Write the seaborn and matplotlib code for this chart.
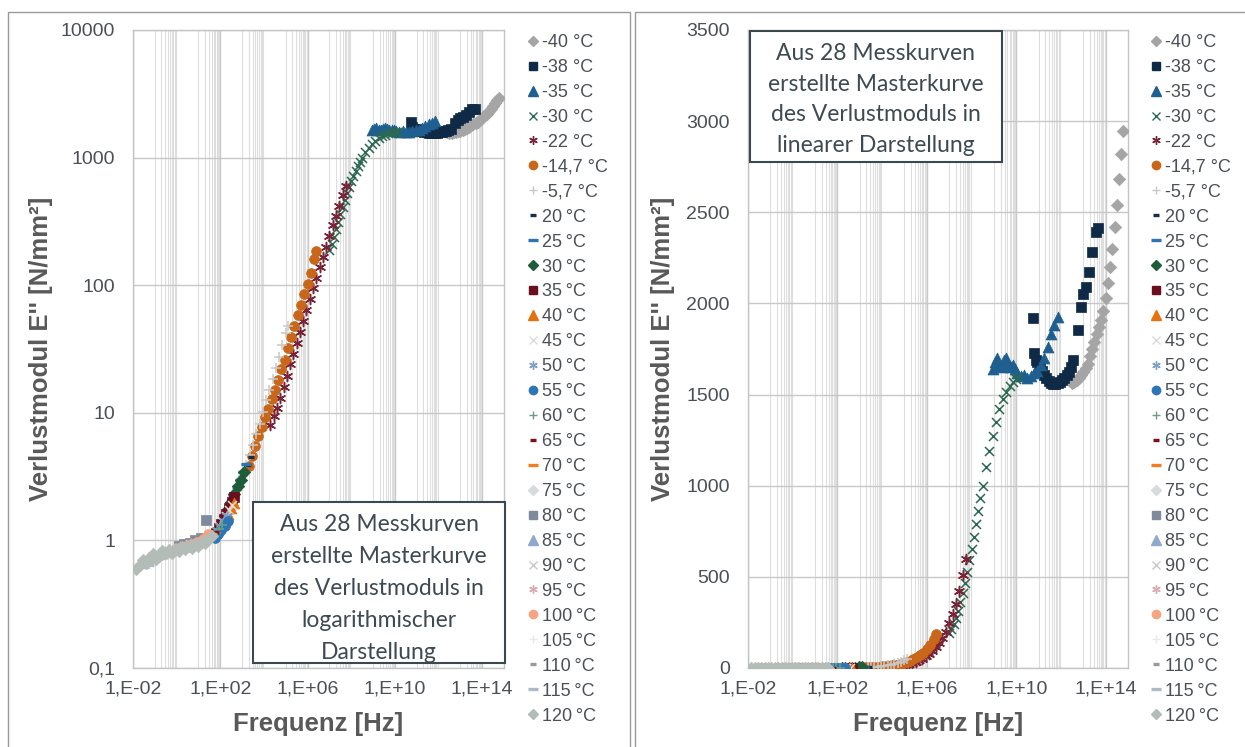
import numpy as np
import pandas as pd
import matplotlib
matplotlib.use("Agg")
import matplotlib.pyplot as plt
import seaborn as sns
from matplotlib.patches import Rectangle
from matplotlib.lines import Line2D
from matplotlib.ticker import FixedLocator, NullFormatter

# ---------------- data (log10 frequency in Hz, loss modulus E'' in N/mm²) ----------------
labels = ["-40 °C", "-38 °C", "-35 °C", "-30 °C", "-22 °C", "-14,7 °C", "-5,7 °C",
          "20\u2009°C", "25\u2009°C", "30\u2009°C", "35\u2009°C", "40\u2009°C", "45\u2009°C",
          "50\u2009°C", "55\u2009°C", "60\u2009°C", "65\u2009°C", "70\u2009°C", "75\u2009°C",
          "80\u2009°C", "85\u2009°C", "90\u2009°C", "95\u2009°C", "100\u2009°C", "105\u2009°C",
          "110\u2009°C", "115\u2009°C", "120\u2009°C"]

lf_m40 = [12.40, 12.50, 12.60, 12.70, 12.80, 12.90, 13.00, 13.10, 13.20, 13.30, 13.40, 13.50, 13.60,
          13.70, 13.80, 13.90, 14.00, 14.10, 14.20, 14.30, 14.40, 14.50, 14.60, 14.70, 14.78]
e_m40 = [1575, 1565, 1570, 1580, 1590, 1610, 1625, 1645, 1670, 1710, 1750, 1790, 1830,
         1870, 1910, 1960, 2030, 2110, 2200, 2300, 2420, 2540, 2680, 2820, 2945]

lf_m38 = [10.75, 10.80, 10.88, 10.95, 11.05, 11.15, 11.25, 11.35, 11.45, 11.55, 11.65, 11.75, 11.85, 11.95,
          12.05, 12.15, 12.25, 12.35, 12.45, 12.55, 12.77, 12.90, 13.00, 13.10, 13.25, 13.40, 13.55, 13.65]
e_m38 = [1918, 1730, 1690, 1680, 1655, 1630, 1610, 1590, 1575, 1565, 1560, 1558, 1562, 1570,
         1580, 1592, 1605, 1625, 1650, 1690, 1852, 1980, 2050, 2090, 2170, 2280, 2390, 2412]

lf_m35 = [8.96, 9.05, 9.15, 9.25, 9.35, 9.45, 9.55, 9.65, 9.75, 9.85, 9.95, 10.05, 10.20, 10.35,
          10.50, 10.65, 10.80, 10.95, 11.10, 11.25, 11.40, 11.55, 11.70, 11.85]
e_m35 = [1643, 1680, 1700, 1660, 1650, 1690, 1700, 1670, 1650, 1660, 1640, 1620, 1600, 1610,
         1593, 1600, 1620, 1632, 1660, 1703, 1760, 1835, 1880, 1923]

lf_m30 = [7.00, 7.10, 7.20, 7.30, 7.40, 7.50, 7.60, 7.70, 7.80, 7.90, 8.00, 8.10, 8.20, 8.30,
          8.40, 8.50, 8.65, 8.80, 8.95, 9.10, 9.25, 9.40, 9.55, 9.70, 9.85, 10.00, 10.10]
e_m30 = [190, 212, 240, 275, 315, 360, 410, 465, 525, 590, 655, 720, 790, 860,
         930, 1000, 1100, 1190, 1270, 1350, 1420, 1475, 1515, 1545, 1570, 1585, 1595]

lf_m22 = [4.30, 4.45, 4.60, 4.75, 4.90, 5.05, 5.20, 5.35, 5.50, 5.65, 5.80, 5.95, 6.10, 6.25,
          6.40, 6.55, 6.70, 6.85, 7.00, 7.15, 7.30, 7.45, 7.60, 7.75]
e_m22 = [8, 9.5, 11, 13, 16, 19.5, 24, 29, 35, 43, 52, 64, 78, 95,
         114, 138, 166, 200, 245, 295, 350, 420, 510, 600]

lf_m14 = [3.30, 3.45, 3.60, 3.75, 3.90, 4.05, 4.20, 4.35, 4.50, 4.65, 4.80, 4.95, 5.10, 5.25,
          5.40, 5.55, 5.70, 5.85, 6.00, 6.15, 6.30, 6.40]
e_m14 = [3.8, 4.6, 5.5, 6.6, 7.8, 9.2, 10.8, 12.8, 15, 18, 22, 26, 32, 39,
         48, 58, 70, 85, 103, 125, 160, 186]

lf_m5 = [2.90, 3.05, 3.20, 3.35, 3.50, 3.65, 3.80, 3.95, 4.10, 4.25, 4.40, 4.55, 4.70, 4.85, 5.00, 5.10]
e_m5 = [2.6, 3.2, 3.9, 4.7, 5.6, 6.8, 8.2, 10.2, 12.5, 15, 18.5, 22.5, 27.5, 34, 42, 48]

lf_20 = [2.50, 2.65, 2.80, 2.95, 3.10, 3.25, 3.40]
e_20 = [1.9, 2.2, 2.55, 2.95, 3.4, 3.9, 4.5]

lf_25 = [2.30, 2.45, 2.60, 2.75, 2.90, 3.05, 3.20]
e_25 = [1.7, 1.95, 2.25, 2.6, 3.0, 3.45, 4.0]

lf_30 = [2.20, 2.35, 2.50, 2.65, 2.80, 2.95, 3.10]
e_30 = [1.55, 1.75, 2.0, 2.3, 2.65, 3.0, 3.45]

lf_35 = [1.80, 1.92, 2.04, 2.16, 2.28, 2.40, 2.52, 2.64]
e_35 = [1.15, 1.25, 1.35, 1.48, 1.62, 1.8, 2.0, 2.2]

lf_40 = [1.90, 2.05, 2.20, 2.35, 2.50, 2.65]
e_40 = [1.2, 1.32, 1.45, 1.6, 1.78, 1.98]

lf_45 = [1.95, 2.10, 2.25, 2.40, 2.55]
e_45 = [1.3, 1.42, 1.56, 1.72, 1.9]

lf_50 = [1.70, 1.85, 2.00, 2.15, 2.30]
e_50 = [1.12, 1.2, 1.3, 1.42, 1.56]

lf_55 = [1.75, 1.90, 2.05, 2.20, 2.35]
e_55 = [1.05, 1.12, 1.2, 1.3, 1.42]

lf_60 = [1.50, 1.65, 1.80, 1.95, 2.10]
e_60 = [1.02, 1.08, 1.15, 1.23, 1.32]

lf_65 = [1.20, 1.35, 1.50, 1.65, 1.80]
e_65 = [0.98, 1.02, 1.06, 1.11, 1.17]

lf_70 = [0.60, 0.80, 1.00, 1.20, 1.40, 1.60]
e_70 = [0.92, 0.95, 0.98, 1.02, 1.07, 1.12]

lf_75 = [0.30, 0.55, 0.80, 1.05, 1.30, 1.55]
e_75 = [0.88, 0.90, 0.93, 0.97, 1.01, 1.06]

lf_80 = [0.10, 0.35, 0.60, 0.85, 1.10, 1.35]
e_80 = [0.90, 0.93, 0.96, 1.00, 1.05, 1.45]

lf_85 = [-0.10, 0.15, 0.40, 0.65, 0.90, 1.15]
e_85 = [0.86, 0.88, 0.91, 0.94, 0.97, 1.00]

lf_90 = [-0.40, -0.15, 0.10, 0.35, 0.60, 0.85]
e_90 = [0.82, 0.84, 0.87, 0.90, 0.93, 0.96]

lf_95 = [-0.70, -0.45, -0.20, 0.05, 0.30, 0.55]
e_95 = [0.78, 0.80, 0.83, 0.86, 0.89, 0.92]

lf_100 = [-1.30, -1.05, -0.80, -0.55, -0.30, -0.05, 0.20, 0.45, 0.70, 0.95, 1.20, 1.45]
e_100 = [0.70, 0.73, 0.76, 0.79, 0.82, 0.85, 0.88, 0.91, 0.94, 0.98, 1.03, 1.12]

lf_105 = [-1.00, -0.75, -0.50, -0.25, 0.00, 0.25]
e_105 = [0.74, 0.77, 0.80, 0.83, 0.86, 0.89]

lf_110 = [-1.20, -0.95, -0.70, -0.45, -0.20, 0.05]
e_110 = [0.71, 0.74, 0.77, 0.80, 0.83, 0.86]

lf_115 = [-1.50, -1.25, -1.00, -0.75, -0.50, -0.25]
e_115 = [0.62, 0.64, 0.70, 0.73, 0.76, 0.79]

lf_120 = [-1.85, -1.70, -1.55, -1.40, -1.25, -1.10, -0.95, -0.80, -0.65, -0.50, -0.35, -0.20,
          -0.05, 0.10, 0.25, 0.40, 0.55, 0.70, 0.85, 1.00, 1.15, 1.30, 1.45, 1.60]
e_120 = [0.60, 0.64, 0.70, 0.66, 0.73, 0.78, 0.72, 0.76, 0.82, 0.79, 0.84, 0.80,
         0.86, 0.83, 0.88, 0.85, 0.90, 0.87, 0.93, 0.90, 0.97, 0.95, 1.02, 1.08]

series_lf = [lf_m40, lf_m38, lf_m35, lf_m30, lf_m22, lf_m14, lf_m5, lf_20, lf_25, lf_30, lf_35, lf_40,
             lf_45, lf_50, lf_55, lf_60, lf_65, lf_70, lf_75, lf_80, lf_85, lf_90, lf_95, lf_100,
             lf_105, lf_110, lf_115, lf_120]
series_e = [e_m40, e_m38, e_m35, e_m30, e_m22, e_m14, e_m5, e_20, e_25, e_30, e_35, e_40,
            e_45, e_50, e_55, e_60, e_65, e_70, e_75, e_80, e_85, e_90, e_95, e_100,
            e_105, e_110, e_115, e_120]

colors = ["#a5a5a5", "#0e2a47", "#1f5f8f", "#2b6a50", "#7b2336", "#c8661a", "#c8c8c8",
          "#1c2d4a", "#2e75b6", "#1e5c3a", "#6b0e1e", "#e4720f", "#dcdcdc",
          "#7f9fc6", "#2e75b6", "#6f9e86", "#7b1020", "#f07d22", "#d6dcdc",
          "#7f8a9c", "#8ea9cc", "#c9c9c9", "#d8aab2", "#f4a582", "#e6eaea",
          "#9a9a9a", "#adb9ca", "#b4bcb8"]
marker_kinds = ["diamond", "square", "triangle", "x", "star", "circle", "plus",
                "sdash", "ldash", "diamond", "square", "triangle", "x",
                "star", "circle", "plus", "sdash", "ldash", "diamond",
                "square", "triangle", "x", "star", "circle", "plus",
                "sdash", "ldash", "diamond"]

rows = []
for lab, lfs, es in zip(labels, series_lf, series_e):
    for a, b in zip(lfs, es):
        rows.append((lab, 10.0 ** a, b))
df = pd.DataFrame(rows, columns=["T", "f", "E"])

# ---------------- styles ----------------
MK = {
    "diamond": dict(marker="D", s=40, filled=True),
    "square": dict(marker="s", s=55, filled=True),
    "triangle": dict(marker="^", s=62, filled=True),
    "circle": dict(marker="o", s=50, filled=True),
    "x": dict(marker="x", s=42, filled=False),
    "star": dict(marker=(6, 2, 0), s=52, filled=False),
    "plus": dict(marker="+", s=52, filled=False),
    "sdash": dict(marker="_", s=18, filled=False),
    "ldash": dict(marker="_", s=60, filled=False),
}

sns.set_theme(style="white")
plt.rcParams["font.family"] = ["Liberation Sans", "DejaVu Sans"]
TXT = "#4a5056"

W, H = 1245, 747
fig = plt.figure(figsize=(W / 100, H / 100), dpi=100)
fig.patch.set_facecolor("white")

def px_axes(x0, y0, x1, y1):
    return fig.add_axes([x0 / W, 1 - y1 / H, (x1 - x0) / W, (y1 - y0) / H])

axL = px_axes(133, 30, 504, 668)
axR = px_axes(748, 30, 1128, 668)

major_x = [1e-2, 1e2, 1e6, 1e10, 1e14]
minor_x = [m * 10.0 ** n for n in range(-1, 15, 2) for m in range(1, 10)]

for ax in (axL, axR):
    ax.set_xscale("log")
    for lab, kind, col in zip(labels, marker_kinds, colors):
        sub = df[df["T"] == lab]
        spec = MK[kind]
        if spec["filled"]:
            sns.scatterplot(data=sub, x="f", y="E", ax=ax, marker=spec["marker"], s=spec["s"],
                            color=col, edgecolor=col, linewidth=0.5, legend=False, zorder=3)
        else:
            lw = 2.4 if kind in ("sdash", "ldash") else 1.1
            sns.scatterplot(data=sub, x="f", y="E", ax=ax, marker=spec["marker"], s=spec["s"],
                            color=col, linewidth=lw, legend=False, zorder=3)
    ax.set_xlim(1e-2, 1e15)
    ax.xaxis.set_major_locator(FixedLocator(major_x))
    ax.set_xticklabels(["1,E-02", "1,E+02", "1,E+06", "1,E+10", "1,E+14"])
    ax.xaxis.set_minor_locator(FixedLocator(minor_x))
    ax.xaxis.set_minor_formatter(NullFormatter())
    ax.grid(True, which="minor", axis="x", color="#dedede", lw=0.8, zorder=0)
    ax.grid(True, which="major", axis="both", color="#c8c8c8", lw=1.0, zorder=0)
    ax.set_axisbelow(True)
    for sp in ax.spines.values():
        sp.set_color("#c4c4c4")
        sp.set_linewidth(1.0)
    ax.tick_params(axis="y", which="both", length=0, labelsize=14, colors=TXT, pad=13)
    ax.tick_params(axis="x", which="both", length=0, labelsize=14, colors=TXT, pad=9)
    ax.set_xlabel("Frequenz [Hz]", fontsize=18.5, fontweight="bold", color="#595959")
    ax.set_ylabel("Verlustmodul E'' [N/mm²]", fontsize=18.5, fontweight="bold", color="#595959")

axL.set_yscale("log")
axL.set_ylim(0.1, 10000)
axL.yaxis.set_major_locator(FixedLocator([0.1, 1, 10, 100, 1000, 10000]))
axL.set_yticklabels(["0,1", "1", "10", "100", "1000", "10000"])
axL.yaxis.set_minor_formatter(NullFormatter())
axL.yaxis.set_minor_locator(FixedLocator([]))
axL.xaxis.set_label_coords(0.5, -(712 - 668) / 638)
axL.yaxis.set_label_coords((53 - 133) / 371, 0.5)

axR.set_ylim(0, 3500)
axR.set_yticks([0, 500, 1000, 1500, 2000, 2500, 3000, 3500])
axR.set_yticklabels(["0", "500", "1000", "1500", "2000", "2500", "3000", "3500"])
axR.xaxis.set_label_coords(0.5, -(712 - 668) / 638)
axR.yaxis.set_label_coords((675 - 748) / 380, 0.5)

# ---------------- legends ----------------
handles = []
for kind, col in zip(marker_kinds, colors):
    spec = MK[kind]
    ms = np.sqrt(spec["s"]) * 0.85
    if spec["filled"]:
        h = Line2D([], [], ls="none", marker=spec["marker"], ms=ms, color=col, mec=col)
    else:
        lw = 2.4 if kind in ("sdash", "ldash") else 1.0
        h = Line2D([], [], ls="none", marker=spec["marker"], ms=ms, color=col, mew=lw)
    handles.append(h)

for x_anchor in (528, 1151):
    fig.legend(handles, labels, loc="upper left", bbox_to_anchor=(x_anchor / W, 1 - 34 / H),
               frameon=False, fontsize=13, labelcolor=TXT, handlelength=0.6,
               handletextpad=0.2, borderpad=0, borderaxespad=0, labelspacing=0.44)

# ---------------- panel frames ----------------
for (x0, x1) in ((8, 630), (635, 1250)):
    fig.add_artist(Rectangle((x0 / W, -0.01), (x1 - x0) / W, 1 - 12 / H + 0.01,
                             transform=fig.transFigure, fill=False, ec="#9a9a9a", lw=1.0))

# ---------------- text boxes ----------------
BOXC = "#3b4850"
def text_box(x0, y0, x1, y1, txt, ls, dy):
    fig.add_artist(Rectangle((x0 / W, 1 - y1 / H), (x1 - x0) / W, (y1 - y0) / H,
                             transform=fig.transFigure, fc="white", ec=BOXC, lw=1.5, zorder=5))
    fig.text((x0 + x1) / 2 / W, 1 - ((y0 + y1) / 2 + dy) / H, txt, ha="center", va="center",
             fontsize=16.5, color="#3e4a52", family=["Lato", "DejaVu Sans"], linespacing=ls, zorder=6)

text_box(253, 502, 505, 663,
         "Aus 28 Messkurven\nerstellte Masterkurve\ndes Verlustmoduls in\nlogarithmischer\nDarstellung", 1.66, 6)
text_box(750, 31, 1002, 162,
         "Aus 28 Messkurven\nerstellte Masterkurve\ndes Verlustmoduls in\nlinearer Darstellung", 1.56, 3)

fig.savefig("out.png", dpi=100)
